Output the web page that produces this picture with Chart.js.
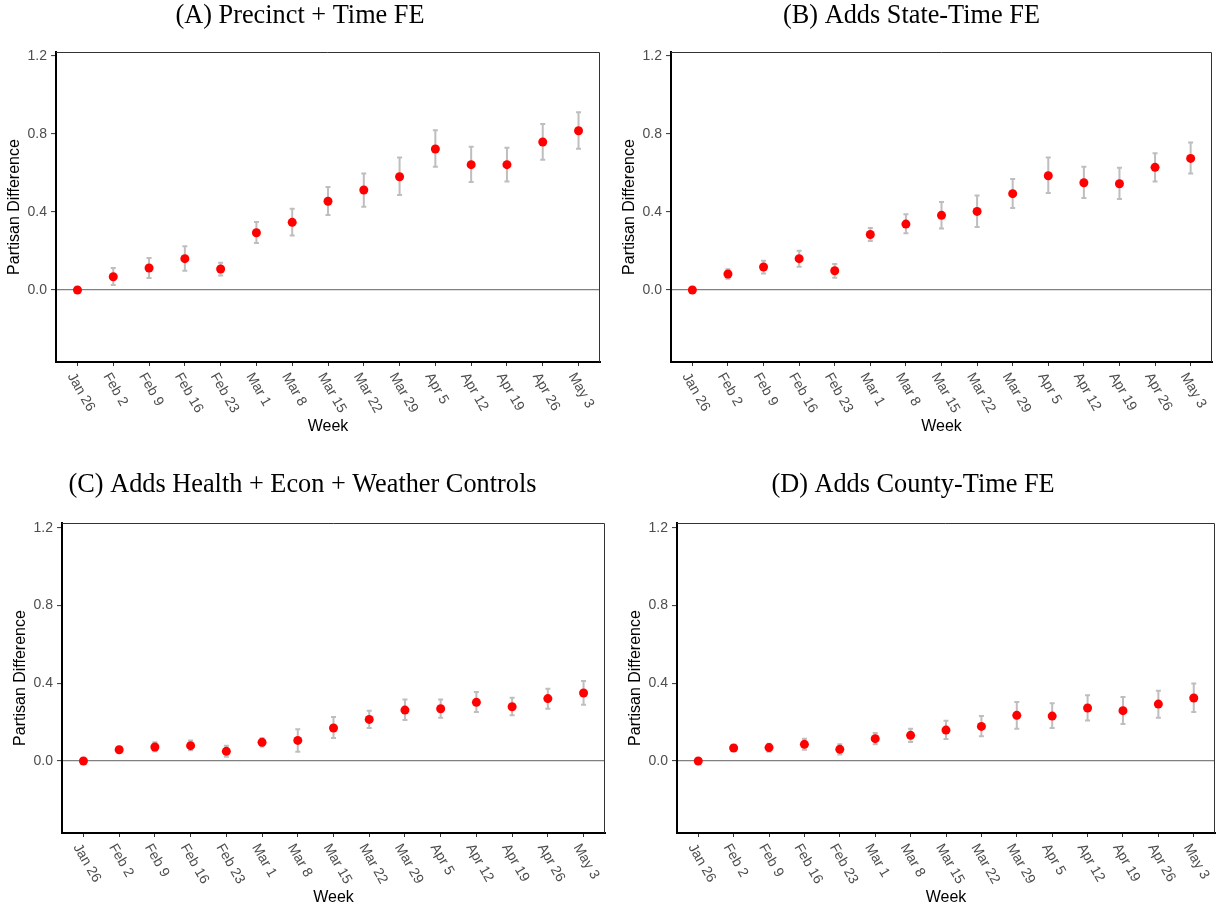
<!DOCTYPE html>
<html>
<head>
<meta charset="utf-8">
<script src="https://cdn.jsdelivr.net/npm/chart.js@4.4.1/dist/chart.umd.min.js"></script>
<style>
  html, body { margin:0; padding:0; background:#fff; }
  body { width:1222px; height:911px; position:relative; overflow:hidden; }
  .panel { position:absolute; }
</style>
</head>
<body>
<div class="panel" id="pA"><canvas id="cA"></canvas></div>
<div class="panel" id="pB"><canvas id="cB"></canvas></div>
<div class="panel" id="pC"><canvas id="cC"></canvas></div>
<div class="panel" id="pD"><canvas id="cD"></canvas></div>
<script>
// ── Data ──────────────────────────────────────────────────────────────────
const weeks  = ['Jan 26','Feb 2','Feb 9','Feb 16','Feb 23','Mar 1','Mar 8','Mar 15',
                'Mar 22','Mar 29','Apr 5','Apr 12','Apr 19','Apr 26','May 3'];
const yTicks = [0, 0.4, 0.8, 1.2];

// (A) Precinct + Time FE
const estA = [0, 0.068, 0.113, 0.161, 0.108, 0.294, 0.347, 0.455, 0.513, 0.581, 0.723, 0.643, 0.643, 0.759, 0.817];
const loA  = [0, 0.026, 0.062, 0.099, 0.074, 0.241, 0.279, 0.385, 0.427, 0.487, 0.632, 0.554, 0.557, 0.668, 0.725];
const hiA  = [0, 0.113, 0.164, 0.224, 0.140, 0.349, 0.417, 0.528, 0.598, 0.679, 0.819, 0.735, 0.730, 0.851, 0.911];

// (B) Adds State-Time FE
const estB = [0, 0.082, 0.118, 0.161, 0.099, 0.285, 0.338, 0.383, 0.403, 0.494, 0.586, 0.550, 0.545, 0.629, 0.675];
const loB  = [0, 0.058, 0.085, 0.120, 0.063, 0.251, 0.291, 0.315, 0.323, 0.421, 0.497, 0.472, 0.467, 0.556, 0.597];
const hiB  = [0, 0.106, 0.150, 0.202, 0.133, 0.318, 0.388, 0.451, 0.485, 0.569, 0.680, 0.632, 0.627, 0.701, 0.756];

// (C) Adds Health + Econ + Weather Controls
const estC = [0, 0.058, 0.072, 0.079, 0.050, 0.096, 0.106, 0.170, 0.214, 0.262, 0.269, 0.302, 0.279, 0.321, 0.350];
const loC  = [0, 0.045, 0.050, 0.055, 0.022, 0.075, 0.048, 0.118, 0.170, 0.211, 0.223, 0.252, 0.235, 0.269, 0.290];
const hiC  = [0, 0.074, 0.096, 0.105, 0.079, 0.117, 0.163, 0.226, 0.259, 0.317, 0.317, 0.355, 0.326, 0.372, 0.411];

// (D) Adds County-Time FE
const estD = [0, 0.067, 0.069, 0.086, 0.060, 0.115, 0.132, 0.159, 0.178, 0.235, 0.231, 0.273, 0.259, 0.293, 0.324];
const loD  = [0, 0.053, 0.048, 0.058, 0.034, 0.086, 0.098, 0.113, 0.127, 0.166, 0.170, 0.209, 0.190, 0.223, 0.252];
const hiD  = [0, 0.082, 0.089, 0.115, 0.086, 0.144, 0.166, 0.207, 0.231, 0.303, 0.297, 0.338, 0.329, 0.362, 0.399];

// ── Look ──────────────────────────────────────────────────────────────────
Chart.defaults.font.family = '"Liberation Sans", Arial, sans-serif';
const TICK_GREY = '#4d4d4d';
const BAR_GREY  = '#bebebe';

// error bars from lo/hi arrays, through the chart scales
const errorBars = {
  id: 'errorBars',
  beforeDatasetsDraw(chart, args, opts) {
    const {ctx, scales:{x, y}} = chart;
    ctx.save();
    ctx.strokeStyle = BAR_GREY; ctx.lineWidth = 2;
    opts.lo.forEach((lo, i) => {
      const hi = opts.hi[i];
      if (lo === hi) return;
      const px = x.getPixelForValue(i), y1 = y.getPixelForValue(lo), y2 = y.getPixelForValue(hi);
      ctx.beginPath();
      ctx.moveTo(px, y1); ctx.lineTo(px, y2);
      ctx.moveTo(px-2.5, y1); ctx.lineTo(px+2.5, y1);
      ctx.moveTo(px-2.5, y2); ctx.lineTo(px+2.5, y2);
      ctx.stroke();
    });
    ctx.restore();
  }
};

// top/right frame + rotated week labels
const frameAndWeeks = {
  id: 'frameAndWeeks',
  afterDraw(chart) {
    const {ctx, chartArea:a, scales:{x}} = chart;
    ctx.save();
    ctx.strokeStyle = '#333'; ctx.lineWidth = 1;
    ctx.beginPath();
    ctx.moveTo(a.left, a.top + 0.5); ctx.lineTo(a.right - 0.5, a.top + 0.5); ctx.lineTo(a.right - 0.5, a.bottom);
    ctx.stroke();
    ctx.font = '14px "Liberation Sans", Arial, sans-serif';
    ctx.fillStyle = TICK_GREY;
    ctx.textAlign = 'left'; ctx.textBaseline = 'middle';
    weeks.forEach((w, i) => {
      ctx.save();
      ctx.translate(x.getPixelForValue(i) - 7, a.bottom + 12);
      ctx.rotate(Math.PI / 3);
      ctx.fillText(w, 0, 0);
      ctx.restore();
    });
    ctx.restore();
  }
};

function makePanel(cfg) {
  const {id, title, est, lo, hi, box, area, yMin, yMax, titleMid, weekMid} = cfg;
  const wrap = document.getElementById('p' + id);
  Object.assign(wrap.style, {left: box.x+'px', top: box.y+'px', width: box.w+'px', height: box.h+'px'});

  const TITLE_SIZE = 26.3, titleLH = TITLE_SIZE * 1.2;
  const pt = Math.max(0, titleMid - box.y - titleLH/2);
  const pb = (area.t - box.y) - pt - titleLH;
  const axLH = 16 * 1.2;

  new Chart(document.getElementById('c' + id), {
    type: 'scatter',
    data: {
      datasets: [{
        data: est.map((v, i) => ({x: i, y: v})),
        backgroundColor: '#ff0000', borderWidth: 0,
        pointRadius: 4.5, pointHoverRadius: 4.5
      }]
    },
    options: {
      responsive: true, maintainAspectRatio: false, animation: false,
      layout: { padding: {left: 0, top: 0, bottom: 0, right: (box.x + box.w) - area.r} },
      plugins: {
        legend: {display: false},
        tooltip: {enabled: false},
        title: {
          display: true, text: title, color: '#000',
          font: {family: '"Liberation Serif", "Times New Roman", serif', size: TITLE_SIZE, weight: 'normal'},
          padding: {top: pt, bottom: pb}
        },
        errorBars: {lo, hi}
      },
      scales: {
        x: {
          type: 'linear', min: -0.6, max: 14.6,
          afterBuildTicks: s => { s.ticks = weeks.map((w, i) => ({value: i})); },
          afterFit: s => { s.height = (box.y + box.h) - area.b; },
          ticks: {display: false},
          grid: {drawOnChartArea: false, drawTicks: true, tickLength: 4, tickColor: '#333', tickWidth: 1},
          border: {color: '#000', width: 2},
          title: {display: true, text: 'Week', color: '#000',
                  font: {size: 16}, padding: {top: 0, bottom: (box.y + box.h) - weekMid - axLH/2}}
        },
        y: {
          min: yMin, max: yMax,
          afterBuildTicks: s => { s.ticks = yTicks.map(v => ({value: v})); },
          afterFit: s => { s.width = area.l - box.x; },
          ticks: {color: TICK_GREY, font: {size: 14}, padding: 4, callback: v => v.toFixed(1)},
          grid: {
            color: c => (c.tick && c.tick.value === 0) ? '#808080' : 'rgba(0,0,0,0)',
            lineWidth: 1.2, tickLength: 5, tickColor: '#333', tickWidth: 1
          },
          border: {color: '#000', width: 2},
          title: {display: true, text: 'Partisan Difference', color: '#000',
                  font: {size: 16}, padding: {top: (area.l - 41 - box.x) - axLH/2, bottom: 0}}
        }
      }
    },
    plugins: [errorBars, frameAndWeeks]
  });
}

makePanel({id: 'A', title: '(A) Precinct + Time FE', est: estA, lo: loA, hi: hiA,
  box: {x: 0, y: 0, w: 611, h: 455}, area: {l: 56, t: 52, r: 600, b: 362},
  yMin: -0.369, yMax: 1.2205, titleMid: 14.5, weekMid: 427});
makePanel({id: 'B', title: '(B) Adds State-Time FE', est: estB, lo: loB, hi: hiB,
  box: {x: 611, y: 0, w: 611, h: 455}, area: {l: 671, t: 52, r: 1212, b: 362},
  yMin: -0.369, yMax: 1.2205, titleMid: 14.5, weekMid: 427});
makePanel({id: 'C', title: '(C) Adds Health + Econ + Weather Controls', est: estC, lo: loC, hi: hiC,
  box: {x: 0, y: 455, w: 611, h: 456}, area: {l: 62, t: 523, r: 605, b: 833},
  yMin: -0.370, yMax: 1.224, titleMid: 485, weekMid: 898});
makePanel({id: 'D', title: '(D) Adds County-Time FE', est: estD, lo: loD, hi: hiD,
  box: {x: 611, y: 455, w: 611, h: 456}, area: {l: 677, t: 523, r: 1215, b: 833},
  yMin: -0.370, yMax: 1.224, titleMid: 485, weekMid: 898});
</script>
</body>
</html>
